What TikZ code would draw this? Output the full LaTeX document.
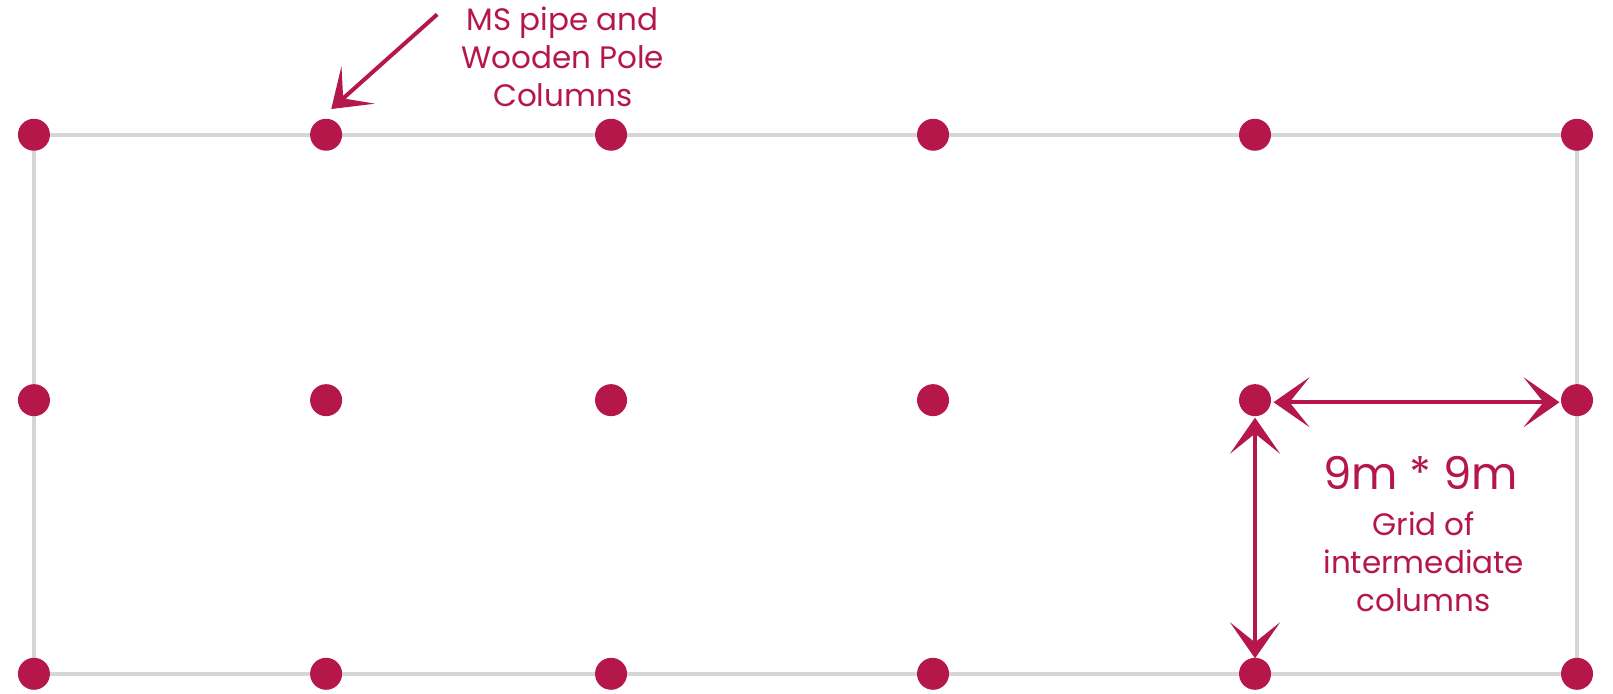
\documentclass[tikz,border=0pt]{standalone}
\usepackage{fontspec}
\setmainfont{Poppins}
\usetikzlibrary{arrows.meta}
\definecolor{crim}{HTML}{B5174A}
\definecolor{lg}{HTML}{D6D6D6}
\begin{document}
\begin{tikzpicture}[x=0.5144pt,y=-0.5144pt,
  dot/.style={circle,fill=crim,inner sep=0pt,minimum size=16pt},
  frame/.style={draw=lg,line width=2pt},
  dim/.style={draw=crim,line width=2pt,{Stealth[length=18pt,width=25pt,inset=10pt]}-{Stealth[length=18pt,width=25pt,inset=10pt]}},
  lab/.style={text=crim,align=center,font=\fontsize{15.5}{19}\selectfont}]
\foreach \x [count=\i] in {33,317,594,907,1220,1533}{
  \foreach \y [count=\j] in {131,389,655}{
    \coordinate (p\i\j) at (\x,\y);
  }}
\draw[frame] (p11) -- (p61) -- (p63) -- (p13) -- cycle;
\foreach \i in {1,...,6}{\foreach \j in {1,2,3}{\node[dot] (d\i\j) at (p\i\j) {};}}
\coordinate (hs) at (1238,391);
\coordinate (he) at (1516,391);
\draw[dim] (hs) -- (he);
\coordinate (vs) at (1220,406);
\coordinate (ve) at (1220,640);
\draw[dim] (vs) -- (ve);
\node[lab,font=\fontsize{22.5}{26}\selectfont] (t1) at (1381,460) {9m * 9m};
\node[lab] (t2) at (1384,546) {Grid of\\intermediate\\columns};
\node[lab] (t3) at (547,55) {MS pipe and\\Wooden Pole\\Columns};
\coordinate (a1) at (425,14);
\coordinate (a2) at (322,106);
\draw[draw=crim,line width=2pt,-{Stealth[length=18pt,width=25pt,inset=10pt]}] (a1) -- (a2);
\pgfresetboundingbox
\useasboundingbox (0,0) rectangle (1568,674);
\end{tikzpicture}
\end{document}
